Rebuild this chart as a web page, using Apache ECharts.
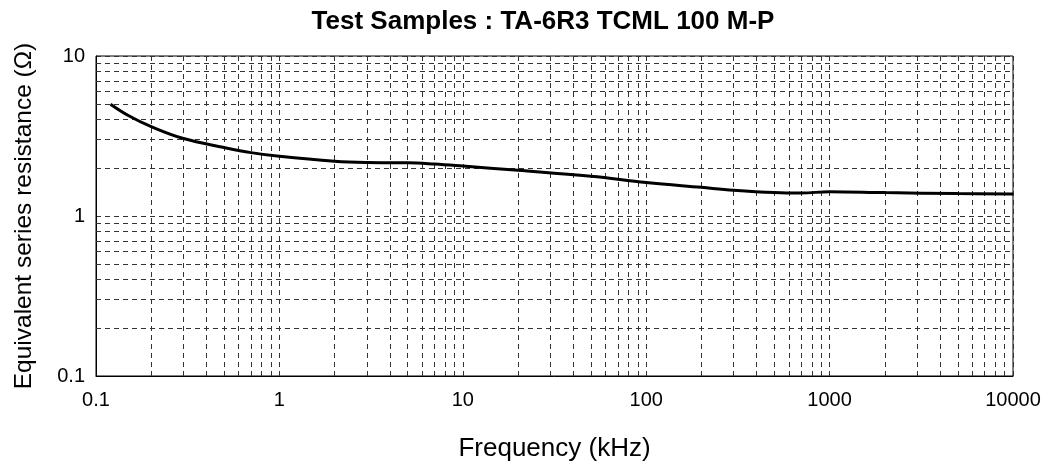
<!DOCTYPE html>
<html>
<head>
<meta charset="utf-8">
<script src="https://cdn.jsdelivr.net/npm/echarts@6/dist/echarts.min.js"></script>
<style>html,body{margin:0;padding:0;background:#fff}#c{width:1048px;height:467px}</style>
</head>
<body>
<div id="c"></div>
<script>
const title = "Test Samples : TA-6R3 TCML 100 M-P";
const xName = "Frequency (kHz)";
const yName = "Equivalent series resistance (Ω)";
const freq = [0.12, 0.15, 0.2, 0.3, 0.5, 0.7, 1, 2, 3, 5, 7, 10, 20, 50, 100, 200, 300, 500, 700, 1000, 2000, 5000, 10000];
const esr  = [5.0, 4.25, 3.62, 3.05, 2.68, 2.49, 2.36, 2.2, 2.16, 2.15, 2.11, 2.05, 1.93, 1.77, 1.62, 1.51, 1.45, 1.40, 1.39, 1.42, 1.40, 1.38, 1.37];
const xMinor = [0.2,0.3,0.4,0.5,0.6,0.7,0.8,0.9, 2,3,4,5,6,7,8,9, 20,30,40,50,60,70,80,90, 200,300,400,500,600,700,800,900, 2000,3000,4000,5000,6000,7000,8000,9000];
const yMinor = [0.2,0.3,0.4,0.5,0.6,0.7,0.8,0.9, 2,3,4,5,6,7,8,9];

const gridStyle = {color:'#333', width:1, type:[5,4]};
const font = 'Liberation Sans, Arial, sans-serif';
const chart = echarts.init(document.getElementById('c'), null, {renderer:'canvas'});
chart.setOption({
  animation:false,
  backgroundColor:'#fff',
  title:{text:title, left:538, textAlign:'center', top:4, textStyle:{fontFamily:font, fontSize:26, fontWeight:'bold', color:'#000'}},
  grid:{left:96, right:35, top:56, bottom:89, show:true, borderColor:'#000', borderWidth:1, backgroundColor:'transparent'},
  xAxis:{type:'log', logBase:10, min:0.1, max:10000,
    name:xName, nameLocation:'middle', nameGap:60,
    nameTextStyle:{fontFamily:font, fontSize:26, color:'#000'},
    axisLine:{show:true, lineStyle:{color:'#000'}}, axisTick:{show:false},
    axisLabel:{fontFamily:font, fontSize:20, color:'#000', margin:14, formatter:v=>String(v)},
    splitLine:{show:true, lineStyle:gridStyle}},
  yAxis:{type:'log', logBase:10, min:0.1, max:10,
    name:yName, nameLocation:'middle', nameGap:59,
    nameTextStyle:{fontFamily:font, fontSize:24.5, color:'#000'},
    axisLine:{show:true, lineStyle:{color:'#000'}}, axisTick:{show:false},
    axisLabel:{fontFamily:font, fontSize:20, color:'#000', margin:11, formatter:v=>String(v)},
    splitLine:{show:true, lineStyle:gridStyle}},
  series:[{
    type:'line', data:freq.map((f,i)=>[f,esr[i]]), smooth:0.4, showSymbol:false,
    lineStyle:{color:'#000', width:3}, z:5,
    markLine:{silent:true, symbol:'none', label:{show:false}, lineStyle:gridStyle, animation:false,
      data:[...xMinor.map(v=>({xAxis:v})), ...yMinor.map(v=>({yAxis:v}))]}
  }]
});
</script>
</body>
</html>
